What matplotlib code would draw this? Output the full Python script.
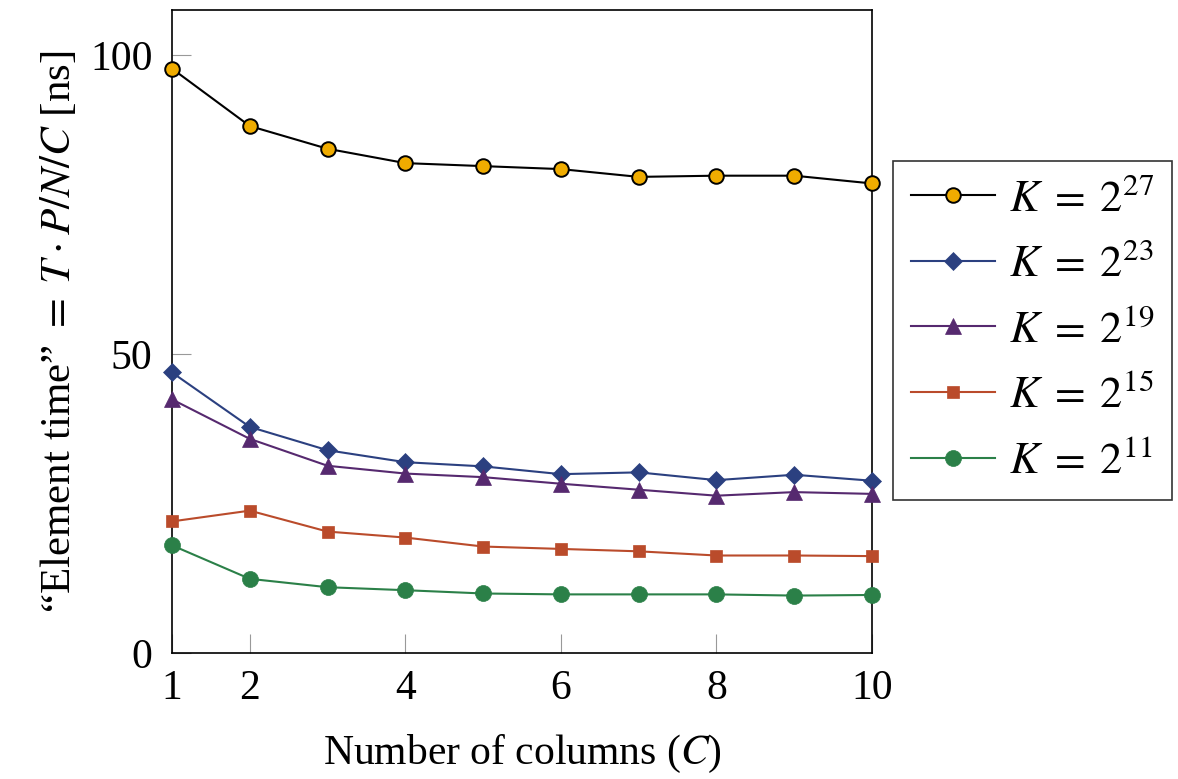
import numpy as np
import matplotlib
matplotlib.use("Agg")
import matplotlib.pyplot as plt

# Données
columns = [1, 2, 3, 4, 5, 6, 7, 8, 9, 10]
k27 = [97.7, 88.1, 84.3, 81.9, 81.4, 80.9, 79.6, 79.8, 79.8, 78.5]
k23 = [46.9, 37.8, 33.9, 31.9, 31.2, 29.9, 30.2, 28.9, 29.8, 28.8]
k19 = [42.4, 35.8, 31.3, 30.0, 29.4, 28.3, 27.3, 26.3, 26.9, 26.6]
k15 = [22.0, 23.8, 20.3, 19.3, 17.8, 17.4, 17.0, 16.3, 16.3, 16.2]
k11 = [18.0, 12.4, 11.0, 10.5, 9.95, 9.8, 9.8, 9.8, 9.6, 9.7]

series = [
    (k27, r"$K\;=\;2^{27}$", "black", "o", "#F0AC00", 10.5),
    (k23, r"$K\;=\;2^{23}$", "#2B4080", "D", "#2B4080", 9.0),
    (k19, r"$K\;=\;2^{19}$", "#56296F", "^", "#56296F", 11.0),
    (k15, r"$K\;=\;2^{15}$", "#BA4B2B", "s", "#BA4B2B", 8.5),
    (k11, r"$K\;=\;2^{11}$", "#2B8048", "o", "#2B8048", 11.5),
]

plt.rcParams['font.family'] = ['Liberation Serif', 'DejaVu Serif']
plt.rcParams['mathtext.fontset'] = 'stix'
plt.rcParams['font.size'] = 29

fig = plt.figure(figsize=(11.78, 7.79), dpi=100)
ax = fig.add_axes([172 / 1178, 126 / 779, 700 / 1178, 643 / 779])

for vals, lab, col, mk, face, ms in series:
    edge = "black" if face == "#F0AC00" else face
    ax.plot(columns, vals, color=col, lw=1.5, marker=mk, markersize=ms,
            markerfacecolor=face, markeredgecolor=edge,
            markeredgewidth=1.4 if edge == "black" else 0.5,
            label=lab, clip_on=False, zorder=3)

ax.set_xlim(1, 10)
ax.set_ylim(0, 107.5)
ax.set_xticks([1, 2, 4, 6, 8, 10])
ax.set_yticks([0, 50, 100])
ax.tick_params(direction="in", length=14, width=0.8, color="#999999",
               labelsize=30, top=False, right=False)
ax.tick_params(axis="y", pad=14)
ax.tick_params(axis="x", pad=12)
for s in ax.spines.values():
    s.set_linewidth(1.2)

ax.set_xlabel(r"Number of columns ($C$)", fontsize=30, labelpad=18)
ax.set_ylabel(r"“Element time” $=\;T\cdot P/N/C$ [ns]", fontsize=31, labelpad=8)

leg = ax.legend(loc="upper left", bbox_to_anchor=(1.03, 0.765), fontsize=32,
                frameon=True, fancybox=False, edgecolor="black",
                handlelength=1.9, borderpad=0.4, labelspacing=0.55,
                handletextpad=0.3, borderaxespad=0)
leg.get_frame().set_linewidth(1.2)

fig.savefig("out.png", dpi=100)
